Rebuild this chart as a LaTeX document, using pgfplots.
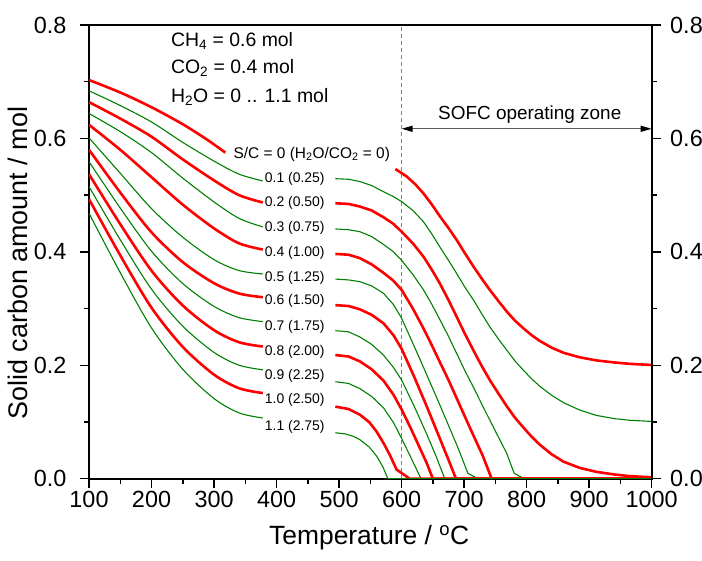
\documentclass[border=0pt]{standalone}
\usepackage{fontspec}
\setmainfont{Liberation Sans}
\usepackage{pgfplots}
\pgfplotsset{compat=1.18}
\usetikzlibrary{arrows.meta}
\definecolor{cred}{RGB}{255,0,0}
\definecolor{cgreen}{RGB}{0,128,0}
\pgfplotsset{
  redline/.style={cred, line width=2.6bp, sharp plot, no markers, line join=round},
  greenline/.style={cgreen, line width=1.1bp, sharp plot, no markers, line join=round},
  redsm/.style={redline, smooth},
  greensm/.style={greenline, smooth},
  commonax/.style={at={(0,0)}, anchor=south west, scale only axis,
    width=562.7bp, height=453.7bp,
    xmin=100, xmax=1000, ymin=0, ymax=0.8,
    tick align=outside, major tick length=9bp, minor tick length=5bp,
    tick style={black, line width=1.5bp},
    axis line style={line width=1.8bp},
    tick label style={font=\fontsize{23.5}{23.5}\selectfont},
    ytick={0,0.2,0.4,0.6,0.8}, yticklabels={0.0,0.2,0.4,0.6,0.8},
    minor y tick num=1},
}
\begin{document}
\begin{tikzpicture}
\path[use as bounding box] (-89bp,-82.3bp) rectangle (613bp,478.7bp);
\begin{axis}[commonax,
  xtick={100,200,300,400,500,600,700,800,900,1000},
  xticklabels={100,200,300,400,500,600,700,800,900,1000},
  minor x tick num=1,
  xtick pos=left, ytick pos=left,
  yticklabel style={xshift=-10bp},
  xlabel={Temperature / \textsuperscript{o}C},
  ylabel={Solid carbon amount / mol},
  xlabel style={font=\fontsize{26.5}{26.5}\selectfont, at={(axis description cs:0.498,-0.13)}, anchor=center},
  ylabel style={font=\fontsize{27}{27}\selectfont, at={(axis description cs:-0.126,0.475)}, anchor=center},
]
% dashed line and arrow
\draw[gray, line width=1.3bp, dash pattern=on 4bp off 3bp] (axis cs:600,0) -- (axis cs:600,0.8);
\draw[black!65, line width=1.3bp, {Triangle[length=11bp,width=6bp,color=black]}-{Triangle[length=11bp,width=6bp,color=black]}] (axis cs:600,0.617) -- (axis cs:1000,0.617);
\node[font=\fontsize{19}{19}\selectfont] at (axis cs:805,0.6415) {SOFC operating zone};

% S/C = 0
\addplot[redsm] coordinates {(100,0.703) (150,0.681) (200,0.655) (250,0.625) (290,0.597) (318,0.575)};
\addplot[redline] coordinates {(590,0.546) (608,0.533) (622,0.519) (635,0.503) (648,0.484) (661,0.463) (675,0.442) (688,0.421) (701,0.398) (715,0.374) (728,0.353) (741,0.333) (755,0.313) (768,0.295) (781,0.279) (795,0.265) (808,0.253) (821,0.243) (840,0.231) (859,0.222) (885,0.214) (912,0.2085) (940,0.205) (965,0.2025) (1000,0.2005)};
% 0.1
\addplot[greensm] coordinates {(100,0.684) (150,0.658) (200,0.629) (250,0.593) (300,0.560) (340,0.537) (378,0.525)};
\addplot[greenline] coordinates {(494,0.529) (515,0.528) (533,0.524) (552,0.517) (571,0.506) (586,0.498) (600,0.4886) (618,0.473) (635,0.453) (648,0.432) (661,0.409) (675,0.385) (688,0.362) (701,0.338) (715,0.315) (728,0.291) (741,0.268) (755,0.246) (768,0.227) (781,0.208) (795,0.191) (808,0.176) (821,0.163) (840,0.147) (859,0.134) (885,0.121) (912,0.1115) (940,0.106) (965,0.103) (1000,0.101)};
% 0.2
\addplot[redsm] coordinates {(100,0.664) (150,0.635) (200,0.603) (250,0.563) (300,0.526) (340,0.500) (378,0.487)};
\addplot[redline] coordinates {(494,0.4857) (515,0.4845) (533,0.480) (552,0.473) (571,0.461) (586,0.450) (600,0.4356) (618,0.415) (635,0.3915) (648,0.369) (661,0.3446) (675,0.315) (688,0.2857) (701,0.256) (715,0.226) (728,0.199) (741,0.174) (755,0.150) (768,0.128) (781,0.108) (795,0.090) (808,0.074) (821,0.060) (840,0.043) (859,0.030) (885,0.019) (912,0.012) (940,0.0075) (965,0.0045) (1000,0.0025)};
% 0.3
\addplot[greensm] coordinates {(100,0.644) (150,0.612) (200,0.575) (250,0.530) (300,0.488) (340,0.459) (378,0.444)};
\addplot[greenline] coordinates {(494,0.4404) (515,0.439) (533,0.4356) (552,0.427) (571,0.413) (586,0.401) (600,0.385) (618,0.360) (635,0.333) (648,0.308) (661,0.281) (675,0.251) (688,0.221) (701,0.191) (715,0.161) (728,0.132) (741,0.1035) (755,0.073) (768,0.045) (780,0.0095) (796,0) (1000,0)};
% 0.4
\addplot[redsm] coordinates {(100,0.624) (150,0.580) (200,0.5316) (250,0.4832) (300,0.4414) (340,0.415) (378,0.404)};
\addplot[redline] coordinates {(494,0.3963) (515,0.395) (533,0.389) (552,0.378) (571,0.363) (586,0.350) (600,0.333) (618,0.300) (635,0.265) (648,0.236) (661,0.206) (675,0.174) (688,0.142) (701,0.110) (715,0.076) (730,0.040) (744,0) (1000,0)};
% 0.5
\addplot[greensm] coordinates {(100,0.601) (150,0.5386) (200,0.4762) (250,0.4258) (300,0.3862) (340,0.367) (378,0.361)};
\addplot[greenline] coordinates {(494,0.352) (515,0.3505) (533,0.3475) (552,0.340) (571,0.327) (587,0.307) (600,0.283) (615,0.246) (630,0.209) (645,0.171) (660,0.133) (675,0.094) (690,0.055) (706,0.0095) (722,0) (1000,0)};
% 0.6
\addplot[redsm] coordinates {(100,0.580) (150,0.5046) (200,0.4344) (250,0.3819) (300,0.3447) (340,0.3265) (378,0.320)};
\addplot[redline] coordinates {(494,0.306) (515,0.3045) (533,0.2988) (552,0.289) (571,0.274) (587,0.253) (600,0.229) (620,0.180) (640,0.128) (660,0.074) (674,0.036) (687,0) (1000,0)};
% 0.7
\addplot[greensm] coordinates {(100,0.559) (150,0.4772) (200,0.4011) (250,0.3441) (300,0.3038) (340,0.284) (378,0.277)};
\addplot[greenline] coordinates {(494,0.261) (515,0.259) (533,0.25) (552,0.237) (571,0.218) (587,0.196) (600,0.174) (620,0.128) (640,0.079) (655,0.040) (669,0) (1000,0)};
% 0.8
\addplot[redsm] coordinates {(100,0.537) (150,0.4488) (200,0.3668) (250,0.3054) (300,0.2619) (340,0.2406) (378,0.233)};
\addplot[redline] coordinates {(494,0.218) (515,0.2155) (533,0.207) (552,0.193) (571,0.173) (587,0.148) (600,0.122) (615,0.088) (630,0.052) (640,0.028) (650,0) (1000,0)};
% 0.9
\addplot[greensm] coordinates {(100,0.515) (150,0.4213) (200,0.3341) (250,0.2689) (300,0.2227) (340,0.2001) (378,0.192)};
\addplot[greenline] coordinates {(494,0.171) (515,0.168) (533,0.159) (552,0.145) (571,0.125) (587,0.099) (600,0.071) (615,0.037) (631,0) (1000,0)};
% 1.0
\addplot[redsm] coordinates {(100,0.493) (150,0.3938) (200,0.3015) (250,0.2324) (300,0.1835) (340,0.1595) (378,0.151)};
\addplot[redline] coordinates {(494,0.127) (515,0.123) (533,0.113) (548,0.100) (560,0.083) (572,0.061) (582,0.040) (592,0.016) (613,0) (1000,0)};
% 1.1
\addplot[greensm] coordinates {(100,0.468) (150,0.3633) (200,0.2658) (250,0.1929) (300,0.1413) (340,0.116) (378,0.107)};
\addplot[greenline] coordinates {(494,0.081) (510,0.079) (522,0.075) (533,0.069) (548,0.056) (560,0.040) (570,0.021) (578,0) (1000,0)};

% curve labels
\node[anchor=west, inner sep=0, font=\fontsize{15.5}{15.5}\selectfont] at (axis cs:331,0.572) {S/C = 0 (H\textsubscript{2}O/CO\textsubscript{2} = 0)};
\begin{scope}[every node/.style={anchor=west, inner sep=0, font=\fontsize{14}{14}\selectfont}]
\node at (axis cs:381,0.528) {0.1 (0.25)};
\node at (axis cs:381,0.4857) {0.2 (0.50)};
\node at (axis cs:381,0.4416) {0.3 (0.75)};
\node at (axis cs:381,0.3986) {0.4 (1.00)};
\node at (axis cs:381,0.3545) {0.5 (1.25)};
\node at (axis cs:381,0.314) {0.6 (1.50)};
\node at (axis cs:381,0.267) {0.7 (1.75)};
\node at (axis cs:381,0.224) {0.8 (2.00)};
\node at (axis cs:381,0.1817) {0.9 (2.25)};
\node at (axis cs:381,0.1388) {1.0 (2.50)};
\node at (axis cs:381,0.0907) {1.1 (2.75)};
\end{scope}
% composition annotation
\begin{scope}[every node/.style={anchor=west, inner sep=0, font=\fontsize{19.5}{20}\selectfont}]
\node at (axis cs:231,0.7725) {CH\textsubscript{4} = 0.6 mol};
\node at (axis cs:231,0.7238) {CO\textsubscript{2} = 0.4 mol};
\node at (axis cs:231,0.6737) {H\textsubscript{2}O = 0 .. 1.1 mol};
\end{scope}
\end{axis}
\begin{axis}[commonax,
  axis x line=none, axis y line*=right,
  axis line style={-, line width=1.8bp},
  ytick pos=right, yticklabel pos=right,
  yticklabel style={xshift=6bp},
]
\end{axis}
\end{tikzpicture}
\end{document}
